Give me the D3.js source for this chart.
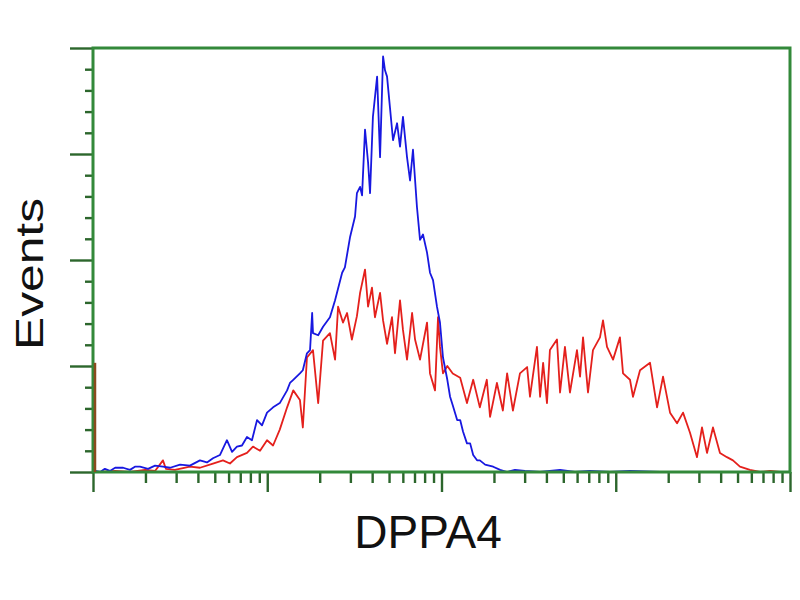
<!DOCTYPE html>
<html>
<head>
<meta charset="utf-8">
<script src="https://cdn.jsdelivr.net/npm/d3@7"></script>
<style>
  body { margin: 0; background: #fff; }
  svg { display: block; }
</style>
</head>
<body>
<script>
// histogram data, fluorescence intensity (log axis) vs events
const blueX = [1.03,1.10,1.17,1.25,1.34,1.49,1.63,1.74,1.86,2.07,2.27,2.52,2.77,3.16,3.60,4.11,4.51,4.88,5.35,5.87,6.28,6.70,7.16,7.65,8.17,8.74,9.33,9.97,10.8,11.8,13.0,13.5,14.1,15.4,16.0,16.9,17.6,18.1,18.3,19.6,20.9,22.9,24.5,26.9,27.9,29.9,31.9,32.7,34.1,35.0,36.4,37.9,38.9,40.4,42.7,44.4,46.2,47.4,48.7,50.6,52.7,55.6,57.8,60.1,63.4,66.0,68.6,72.3,75.3,78.3,82.6,85.9,89.4,94.2,98.0,102,108,112,116,123,128,133,140,146,152,160,166,178,198,217,238,264,301,368,419,479,584,711,927,1207,1795,3043,5161,8764];
const blueY = [1,0,3,1,4,4,2,5,5,3,6,5,4,7,6,11,9,13,16,30,19,24,25,33,30,49,44,56,61,65,77,84,87,93,96,112,115,150,131,129,137,146,162,188,193,222,241,263,269,261,323,292,263,335,373,297,392,379,373,344,313,329,307,335,297,275,304,250,219,224,207,188,181,156,141,108,87,71,63,49,49,38,27,27,16,11,11,7,5,2,0,2,1,0,1,2,0,1,0,1,0,0,0,0];

const redX = [1.10,1.34,1.63,1.99,2.27,2.52,2.62,2.95,3.60,4.11,4.88,5.57,6.11,6.70,7.65,8.28,9.09,9.97,10.8,11.8,13.0,14.1,15.4,16.0,16.9,18.3,19.6,20.9,22.9,24.5,25.5,27.2,28.7,30.6,32.7,34.1,36.4,37.9,39.9,41.5,44.4,46.2,48.7,52.0,54.1,57.8,60.1,63.4,67.8,70.5,75.3,82.6,85.9,91.8,95.5,98.0,102,108,116,128,140,152,166,182,190,208,225,238,257,282,310,322,353,368,383,403,419,460,479,511,546,599,624,649,693,740,812,845,891,965,1057,1101,1207,1256,1378,1573,1726,1868,2049,2248,2433,2668,2926,3126,3340,3614,3964,4347,4706,5161,5891,6724,7677,8764];
const redY = [0,1,0,2,1,11,3,2,5,4,8,11,8,14,18,24,20,30,25,40,61,77,68,42,108,115,65,124,131,106,156,141,150,125,147,169,191,156,174,146,169,143,121,146,112,162,134,106,150,125,106,141,93,77,146,118,93,100,93,89,65,87,61,87,52,84,58,93,58,93,99,71,118,71,103,65,115,125,75,118,75,115,90,127,75,115,127,143,118,106,127,93,87,71,96,103,61,90,56,46,56,37,14,42,18,42,18,14,11,5,2,0,1,0];

// off-scale first channel spike
const firstBinX = 1;
const firstBinCount = 103;

const yMajor = [0, 100, 200, 300, 400];
const xMajor = [1, 10, 100, 1000, 10000];

const width = 800, height = 600;
const svg = d3.select("body").append("svg")
  .attr("width", width)
  .attr("height", height);

const x = d3.scaleLog().domain([1, 10000]).range([93, 790]);
const y = d3.scaleLinear().domain([0, 400]).range([472, 48]);

const frameColor = "#33893a";
const tickColor = "#2c662c";

// minor ticks between decades
const xMinor = [];
for (const d of xMajor.slice(0, -1)) {
  for (let k = 2; k < 10; k++) xMinor.push(d * k);
}
const yMinor = d3.range(0, 400, 20).filter(v => v % 100 !== 0);

function styleAxis(g) {
  g.select(".domain").remove();
  g.selectAll(".tick line").attr("stroke", tickColor).attr("stroke-width", 2.4);
}

svg.append("g")
  .attr("transform", `translate(${x(1)},0)`)
  .call(d3.axisLeft(y).tickValues(yMinor).tickSize(8).tickFormat(""))
  .call(styleAxis);
svg.append("g")
  .attr("transform", `translate(${x(1)},0)`)
  .call(d3.axisLeft(y).tickValues(yMajor).tickSize(23).tickFormat(""))
  .call(styleAxis);

svg.append("g")
  .attr("transform", `translate(0,${y(0)})`)
  .call(d3.axisBottom(x).tickValues(xMinor).tickSize(11).tickFormat(""))
  .call(styleAxis);
svg.append("g")
  .attr("transform", `translate(0,${y(0)})`)
  .call(d3.axisBottom(x).tickValues(xMajor).tickSize(20).tickFormat(""))
  .call(styleAxis);

// histograms
const line = d3.line()
  .x(d => x(d[0]))
  .y(d => y(d[1]));

svg.append("path")
  .datum(d3.zip(redX, redY))
  .attr("fill", "none")
  .attr("stroke", "#e4201c")
  .attr("stroke-width", 1.8)
  .attr("stroke-linejoin", "round")
  .attr("d", line);

svg.append("path")
  .datum(d3.zip(blueX, blueY))
  .attr("fill", "none")
  .attr("stroke", "#1818e0")
  .attr("stroke-width", 1.8)
  .attr("stroke-linejoin", "round")
  .attr("d", line);

// frame
svg.append("rect")
  .attr("x", x(1))
  .attr("y", y(400))
  .attr("width", x(10000) - x(1))
  .attr("height", y(0) - y(400))
  .attr("fill", "none")
  .attr("stroke", frameColor)
  .attr("stroke-width", 3);

svg.append("line")
  .attr("x1", x(firstBinX) + 2)
  .attr("x2", x(firstBinX) + 2)
  .attr("y1", y(0))
  .attr("y2", y(firstBinCount))
  .attr("stroke", "#8a4a1e")
  .attr("stroke-width", 2.5);

// labels
svg.append("text")
  .attr("transform", `translate(43,${(y(0) + y(400)) / 2 + 14}) rotate(-90)`)
  .attr("text-anchor", "middle")
  .attr("font-family", "Liberation Sans, Arial, sans-serif")
  .attr("font-size", 39)
  .attr("textLength", 152)
  .attr("lengthAdjust", "spacingAndGlyphs")
  .attr("fill", "#111")
  .text("Events");

svg.append("text")
  .attr("x", 428)
  .attr("y", 548)
  .attr("text-anchor", "middle")
  .attr("font-family", "Liberation Sans, Arial, sans-serif")
  .attr("font-size", 46)
  .attr("fill", "#111")
  .text("DPPA4");
</script>
</body>
</html>
